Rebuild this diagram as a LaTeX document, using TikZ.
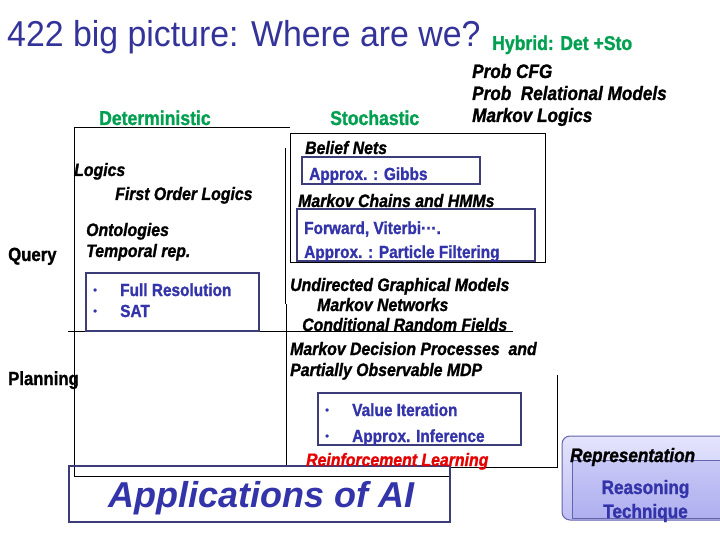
\documentclass[tikz,border=0pt]{standalone}
\usepackage{fontspec}
\setmainfont{Liberation Sans}
\newfontfamily\condf[FakeStretch=0.88,FakeBold=1.2,UprightFont={* Bold},ItalicFont={* Bold Italic},BoldFont={* Bold},BoldItalicFont={* Bold Italic}]{Liberation Sans}
\newfontfamily\titlef[FakeStretch=0.94]{Liberation Sans}
\definecolor{ttlblue}{RGB}{51,51,153}
\definecolor{grn}{RGB}{0,160,80}
\definecolor{itblue}{RGB}{51,51,170}
\definecolor{boxblue}{RGB}{60,60,120}
\definecolor{rlred}{RGB}{230,0,0}
\definecolor{lavtop}{RGB}{228,228,252}
\definecolor{lavbot}{RGB}{190,190,245}
\definecolor{lavin}{RGB}{200,200,246}
\definecolor{lavinb}{RGB}{175,175,240}
\definecolor{lavedge}{RGB}{100,100,170}
\tikzset{
  txt/.style={inner sep=0pt, anchor=base west},
  grnlab/.style={txt, text=grn, font=\condf\fontsize{20}{22}\selectfont},
  sidelab/.style={txt, font=\condf\fontsize{19}{21}\selectfont},
  itlab/.style={txt, font=\condf\itshape\fontsize{18}{20}\selectfont},
  itbig/.style={txt, font=\condf\itshape\fontsize{19.5}{21}\selectfont},
  bluelab/.style={txt, text=itblue, font=\condf\fontsize{17.5}{20}\selectfont},
  bul/.style={txt, text=itblue, font=\fontsize{12}{12}\selectfont},
  frame/.style={draw=black, line width=0.9pt},
  bbox/.style={draw=boxblue, line width=1.1pt},
}
\begin{document}
\begin{tikzpicture}[x=1pt,y=-1pt]
\useasboundingbox (0,0) rectangle (720,540);
\fill[white] (0,0) rectangle (720,540);

% title
\node[txt, text=ttlblue, font=\titlef\fontsize{36}{40}\selectfont] (title) at (7,47) {422 big picture: Where are we?};
\node[grnlab] (hybrid) at (492,50) {Hybrid: Det +Sto};
\node[itbig] (pcfg) at (472,78) {Prob CFG};
\node[itbig] (prm) at (472,100) {Prob\ \ Relational Models};
\node[itbig] (mlog) at (472,122) {Markov Logics};

\node[grnlab] (det) at (99,125) {Deterministic};
\node[grnlab] (sto) at (330,125) {Stochastic};

% frames
\draw[frame] (290,127) -- (74,127) -- (74,476) -- (449,476);
\draw[frame] (285,148) -- (285,304);
\draw[frame] (286.5,304) -- (286.5,465);
\draw[frame] (68,331) -- (513,331);
\draw[frame] (290.5,133) rectangle (545.5,262.5);
\draw[frame] (449,467) -- (557,467) -- (557,375);

% boxes
\draw[bbox] (302,157) rectangle (480,184);
\draw[bbox] (297,209) rectangle (535,261);
\draw[bbox] (86,273) rectangle (259,331);
\draw[bbox] (318,393) rectangle (521,445);
\draw[bbox] (69,466) rectangle (450,522);

% deterministic side
\node[sidelab] (query) at (8,261) {Query};
\node[sidelab] (plan) at (8,385) {Planning};
\node[itlab] (logics) at (74,176) {Logics};
\node[itlab] (fol) at (115,200) {First Order Logics};
\node[itlab] (onto) at (86,236) {Ontologies};
\node[itlab] (temp) at (86,257) {Temporal rep.};
\node[bul] (b1) at (93,294) {\textbullet};
\node[bul] (b2) at (93,315) {\textbullet};
\node[bluelab] (fullres) at (120,296) {Full Resolution};
\node[bluelab] (sat) at (120,317) {SAT};

% stochastic side
\node[itlab] (belief) at (305,154) {Belief Nets};
\node[bluelab] (gibbs) at (309,180) {Approx. : Gibbs};
\node[itlab] (mchmm) at (298,207) {Markov Chains and HMMs};
\node[bluelab] (fwd) at (304,234) {Forward, Viterbi\char"00B7\char"00B7\char"00B7.};
\node[bluelab] (pf) at (304,258) {Approx. : Particle Filtering};
\node[itlab] (ugm) at (290,291) {Undirected Graphical Models};
\node[itlab] (mn) at (317,311) {Markov Networks};
\node[itlab] (crf) at (302,331) {Conditional Random Fields};
\node[itlab] (mdp) at (290,355) {Markov Decision Processes\ \ and};
\node[itlab] (pomdp) at (290,376) {Partially Observable MDP};
\node[bul] (b3) at (325,414) {\textbullet};
\node[bul] (b4) at (325,440) {\textbullet};
\node[bluelab] (vi) at (352,416) {Value Iteration};
\node[bluelab] (ai) at (352,442) {Approx. Inference};
\node[itlab, text=rlred] (rl) at (306,466) {Reinforcement Learning};

% applications
\node[txt, text=itblue, font=\bfseries\itshape\fontsize{36}{40}\selectfont] (apps) at (108,507) {Applications of AI};

% legend
\draw[rounded corners=8pt, draw=lavedge, line width=1pt, top color=lavtop, bottom color=lavbot] (562,436) rectangle (735,520);
\draw[draw=lavedge, line width=0.8pt, top color=lavin, bottom color=lavinb] (572,460) rectangle (735,518);
\node[itbig] (repr) at (570,462) {Representation};
\node[txt, anchor=base, text=itblue, font=\condf\fontsize{19.5}{21}\selectfont] (reas) at (645.5,494) {Reasoning};
\node[txt, anchor=base, text=itblue, font=\condf\fontsize{19.5}{21}\selectfont] (tech) at (645.5,518) {Technique};
\end{tikzpicture}
\end{document}
